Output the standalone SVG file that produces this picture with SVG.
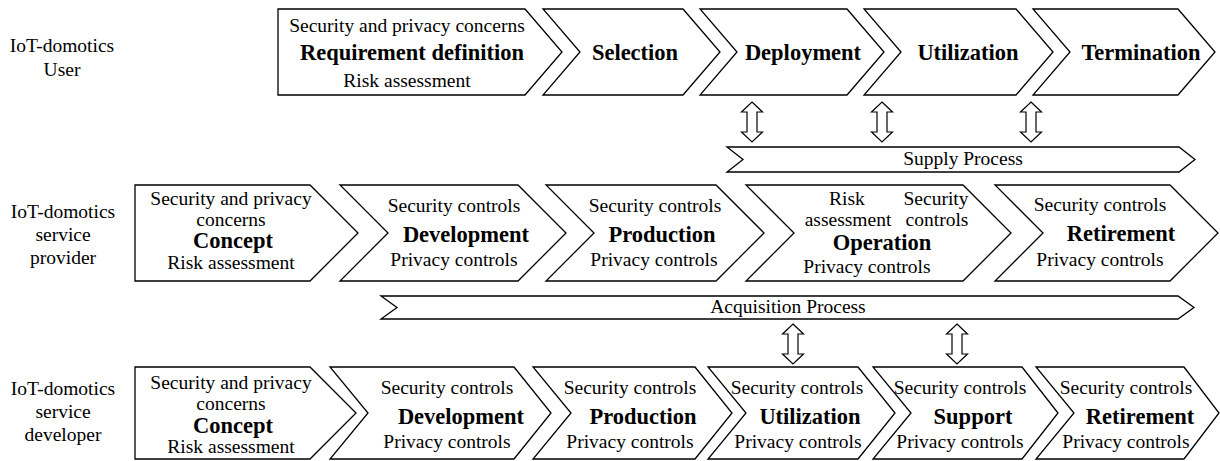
<svg xmlns="http://www.w3.org/2000/svg" xmlns:xlink="http://www.w3.org/1999/xlink" width="1220" height="461" viewBox="0 0 1220 461">
  <style>
    .box { fill: #ffffff; stroke: #000000; stroke-width: 1.3; stroke-linejoin: miter; }
    .arr { fill: #ffffff; stroke: #000000; stroke-width: 1.2; }
    text { font-family: "Liberation Serif", "Times New Roman", serif; font-size: 19.5px; fill: #000000; text-anchor: middle; }
    text.b { font-weight: bold; font-size: 22.5px; }
  </style>
  <defs>
    <!-- hollow two-headed block arrow, 40 px tall, origin at the top tip -->
    <path id="dbl" d="M0,0 L10.5,10 L5,10 L5,30 L10.5,30 L0,40 L-10.5,30 L-5,30 L-5,10 L-10.5,10 Z"/>
  </defs>

  <rect width="1220" height="461" fill="#ffffff"/>

  <!-- Row labels -->
  <g id="label-user">
    <text x="62" y="52">IoT-domotics</text>
    <text x="62" y="76">User</text>
  </g>
  <g id="label-provider">
    <text x="63" y="218">IoT-domotics</text>
    <text x="63" y="241">service</text>
    <text x="63" y="264">provider</text>
  </g>
  <g id="label-developer">
    <text x="63" y="395">IoT-domotics</text>
    <text x="63" y="418">service</text>
    <text x="63" y="441">developer</text>
  </g>

  <!-- User life cycle -->
  <g id="user-requirement">
    <path class="box" d="M278,9 H525 L562,52 L525,95 H278 Z"/>
    <text x="407" y="32">Security and privacy concerns</text>
    <text class="b" x="412" y="60">Requirement definition</text>
    <text x="407" y="87">Risk assessment</text>
  </g>
  <g id="user-selection">
    <path class="box" d="M543,9 H683 L720,52 L683,95 H543 L580,52 Z"/>
    <text class="b" x="635" y="60">Selection</text>
  </g>
  <g id="user-deployment">
    <path class="box" d="M700,9 H847 L884,52 L847,95 H700 L737,52 Z"/>
    <text class="b" x="803" y="60">Deployment</text>
  </g>
  <g id="user-utilization">
    <path class="box" d="M864,9 H1016 L1053,52 L1016,95 H864 L901,52 Z"/>
    <text class="b" x="968" y="60">Utilization</text>
  </g>
  <g id="user-termination">
    <path class="box" d="M1033,9 H1178 L1215,52 L1178,95 H1033 L1070,52 Z"/>
    <text class="b" x="1141" y="60">Termination</text>
  </g>

  <!-- Supply process bar -->
  <g id="supply-process">
    <path class="box" d="M727,147 H1179 L1195,159.5 L1179,172 H727 L743,159.5 Z"/>
    <text x="963" y="165">Supply Process</text>
  </g>

  <!-- Service provider life cycle -->
  <g id="provider-concept">
    <path class="box" d="M135,185 H310 L358,233 L310,281 H135 Z"/>
    <text x="231" y="205">Security and privacy</text>
    <text x="231" y="226">concerns</text>
    <text class="b" x="233" y="248">Concept</text>
    <text x="231" y="269">Risk assessment</text>
  </g>
  <g id="provider-development">
    <path class="box" d="M340,185 H518 L566,233 L518,281 H340 L388,233 Z"/>
    <text x="454" y="212">Security controls</text>
    <text class="b" x="466" y="242">Development</text>
    <text x="454" y="266">Privacy controls</text>
  </g>
  <g id="provider-production">
    <path class="box" d="M546,185 H716 L764,233 L716,281 H546 L594,233 Z"/>
    <text x="655" y="212">Security controls</text>
    <text class="b" x="662" y="242">Production</text>
    <text x="654" y="266">Privacy controls</text>
  </g>
  <g id="provider-operation">
    <path class="box" d="M746,185 H963 L1011,233 L963,281 H746 L794,233 Z"/>
    <text x="847" y="205">Risk</text>
    <text x="848" y="226">assessment</text>
    <text x="936" y="205">Security</text>
    <text x="937" y="226">controls</text>
    <text class="b" x="882" y="250">Operation</text>
    <text x="867" y="273">Privacy controls</text>
  </g>
  <g id="provider-retirement">
    <path class="box" d="M995,185 H1170 L1218,233 L1170,281 H995 L1043,233 Z"/>
    <text x="1100" y="211">Security controls</text>
    <text class="b" x="1121" y="241">Retirement</text>
    <text x="1100" y="266">Privacy controls</text>
  </g>

  <!-- Acquisition process bar -->
  <g id="acquisition-process">
    <path class="box" d="M381,296 H1178 L1194,307.5 L1178,319 H381 L397,307.5 Z"/>
    <text x="788" y="313">Acquisition Process</text>
  </g>

  <!-- Service developer life cycle -->
  <g id="developer-concept">
    <path class="box" d="M135,367 H310 L356,413 L310,459 H135 Z"/>
    <text x="231" y="389">Security and privacy</text>
    <text x="231" y="410">concerns</text>
    <text class="b" x="233" y="433">Concept</text>
    <text x="231" y="453">Risk assessment</text>
  </g>
  <g id="developer-development">
    <path class="box" d="M330,367 H514 L551,413 L514,459 H330 L368,413 Z"/>
    <text x="447" y="394">Security controls</text>
    <text class="b" x="461" y="424">Development</text>
    <text x="447" y="448">Privacy controls</text>
  </g>
  <g id="developer-production">
    <path class="box" d="M533,367 H695 L732,413 L695,459 H533 L571,413 Z"/>
    <text x="630" y="394">Security controls</text>
    <text class="b" x="643" y="424">Production</text>
    <text x="630" y="448">Privacy controls</text>
  </g>
  <g id="developer-utilization">
    <path class="box" d="M708,367 H858 L895,413 L858,459 H708 L746,413 Z"/>
    <text x="797" y="394">Security controls</text>
    <text class="b" x="810" y="424">Utilization</text>
    <text x="798" y="448">Privacy controls</text>
  </g>
  <g id="developer-support">
    <path class="box" d="M873,367 H1022 L1058,413 L1022,459 H873 L911,413 Z"/>
    <text x="960" y="394">Security controls</text>
    <text class="b" x="973" y="424">Support</text>
    <text x="960" y="448">Privacy controls</text>
  </g>
  <g id="developer-retirement">
    <path class="box" d="M1036,367 H1184 L1219,413 L1184,459 H1036 L1074,413 Z"/>
    <text x="1126" y="394">Security controls</text>
    <text class="b" x="1140" y="424">Retirement</text>
    <text x="1126" y="448">Privacy controls</text>
  </g>

  <!-- Two-way exchanges between the life cycles and the process bars -->
  <g id="connectors">
    <use class="arr" xlink:href="#dbl" href="#dbl" x="752" y="102"/>
    <use class="arr" xlink:href="#dbl" href="#dbl" x="882" y="102"/>
    <use class="arr" xlink:href="#dbl" href="#dbl" x="1031" y="102"/>
    <use class="arr" xlink:href="#dbl" href="#dbl" x="793" y="324"/>
    <use class="arr" xlink:href="#dbl" href="#dbl" x="957" y="324"/>
  </g>
</svg>
